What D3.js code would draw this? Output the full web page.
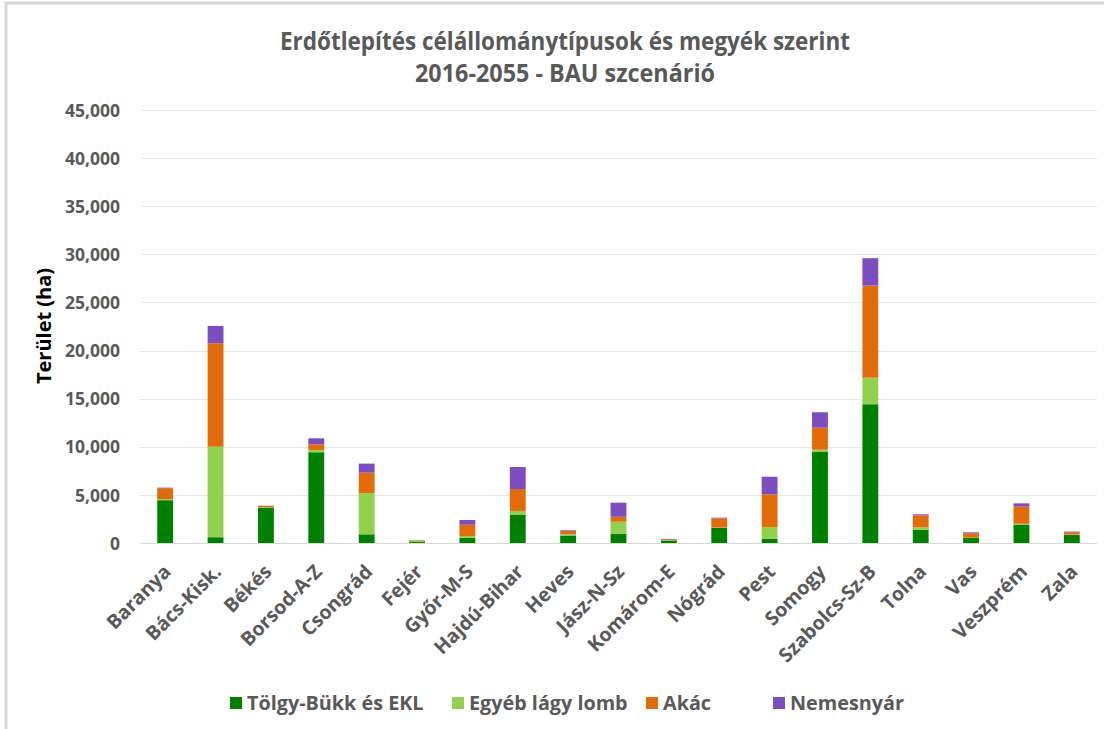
<!DOCTYPE html>
<html><head><meta charset="utf-8">
<script src="https://cdn.jsdelivr.net/npm/d3@7"></script>
<style>
body{margin:0;background:#fff;}
svg{display:block;}
</style></head>
<body>
<svg id="chart" width="1104" height="729"></svg>
<script>
const categories = ["Baranya","Bács-Kisk.","Békés","Borsod-A-Z","Csongrád","Fejér","Győr-M-S","Hajdú-Bihar","Heves","Jász-N-Sz","Komárom-E","Nógrád","Pest","Somogy","Szabolcs-Sz-B","Tolna","Vas","Veszprém","Zala"];
const seriesNames = ["Tölgy-Bükk és EKL","Egyéb lágy lomb","Akác","Nemesnyár"];
const tolgy   = [4450, 600, 3670, 9430, 900, 100, 550, 2910, 780, 940, 260, 1560, 420, 9460, 14420, 1380, 550, 1870, 830];
const egyeb   = [ 100, 9410,  40,  240, 4270, 150, 180,  420, 140, 1270, 60,   40, 1240,  240,  2760,  250,  20,  130,  50];
const akac    = [1150,10750, 150,  590, 2140,  50, 1170, 2280, 330,  520, 90,  970, 3400, 2280,  9570, 1250, 440, 1780, 250];
const nemes   = [  50, 1800,  20,  620,  940,  10,  490, 2290,  70, 1460, 20,   60, 1830, 1610,  2850,  100, 100,  340,  50];
const yTicks  = [0,5000,10000,15000,20000,25000,30000,35000,40000,45000];
const colors  = ["#008000","#92d050","#e36c0a","#7b4dbf"];

(function(){
const svg = d3.select("#chart");
const pLeft = 140, pRight = 1097, pTop = 110, pBottom = 543;
const font = "'Open Sans', 'DejaVu Sans', sans-serif";

// frame
svg.append("rect").attr("x",6).attr("y",3).attr("width",1110).attr("height",740)
  .attr("fill","#fff").attr("stroke","#d9d9d9").attr("stroke-width",3);

const x = d3.scaleBand().domain(categories).range([pLeft,pRight]).paddingInner(0.685).paddingOuter(0.3425);
const y = d3.scaleLinear().domain([0,45000]).range([pBottom,pTop]);

// gridlines
svg.append("g").selectAll("line").data(yTicks).join("line")
  .attr("x1",pLeft).attr("x2",pRight)
  .attr("y1",d=>Math.round(y(d))+0.5).attr("y2",d=>Math.round(y(d))+0.5)
  .attr("stroke",d=>d===0?"#d9d9d9":"#e6e6e6").attr("stroke-width",1);

// y axis
const yAxis = d3.axisLeft(y).tickValues(yTicks).tickFormat(d3.format(",")).tickSize(0).tickPadding(20);
const gy = svg.append("g").attr("transform",`translate(${pLeft},0)`).call(yAxis);
gy.select(".domain").remove();
gy.selectAll("text").attr("font-family",font).attr("font-weight","700").attr("font-size","17.5px").attr("fill","#595959").attr("dy","0.35em");

// stacked data
const rows = categories.map((c,i)=>({cat:c, s0:tolgy[i], s1:egyeb[i], s2:akac[i], s3:nemes[i]}));
const stack = d3.stack().keys(["s0","s1","s2","s3"])(rows);

svg.append("g").selectAll("g").data(stack).join("g")
  .attr("fill",(d,i)=>colors[i])
  .selectAll("rect").data(d=>d).join("rect")
  .attr("x",d=>x(d.data.cat)).attr("width",x.bandwidth())
  .attr("y",d=>y(d[1])).attr("height",d=>Math.max(0,y(d[0])-y(d[1])));

// x axis labels
const xAxis = d3.axisBottom(x).tickSize(0).tickPadding(0);
const gx = svg.append("g").attr("transform",`translate(0,${pBottom})`).call(xAxis);
gx.select(".domain").remove();
gx.selectAll("text")
  .attr("font-family",font).attr("font-weight","700").attr("font-size","19.5px").attr("fill","#595959")
  .attr("text-anchor","end").attr("dy","0")
  .attr("transform","translate(7,30) rotate(-45)");

// y title
svg.append("text").attr("transform","translate(51,326) rotate(-90)")
  .attr("text-anchor","middle").attr("font-family",font).attr("font-weight","700")
  .attr("font-size","20px").attr("fill","#000").text("Terület (ha)");

// title
const title = svg.append("text").attr("text-anchor","middle").attr("font-family",font)
  .attr("font-weight","700").attr("font-size","25px").attr("fill","#595959");
title.append("tspan").attr("x",565).attr("y",50).attr("textLength",570).attr("lengthAdjust","spacingAndGlyphs")
  .text("Erdőtlepítés célállománytípusok és megyék szerint");
title.append("tspan").attr("x",565).attr("y",82).attr("textLength",300).attr("lengthAdjust","spacingAndGlyphs")
  .text("2016-2055 - BAU szcenárió");

// legend
const legX = [230, 452, 646, 773];
const leg = svg.append("g").selectAll("g").data(seriesNames).join("g")
  .attr("transform",(d,i)=>`translate(${legX[i]},703)`);
leg.append("rect").attr("x",0).attr("y",-6).attr("width",12).attr("height",12).attr("fill",(d,i)=>colors[i]);
leg.append("text").attr("x",17).attr("y",0).attr("dy","0.35em")
  .attr("font-family",font).attr("font-weight","700").attr("font-size","19.8px").attr("fill","#595959").text(d=>d);
})();
</script>
</body></html>
